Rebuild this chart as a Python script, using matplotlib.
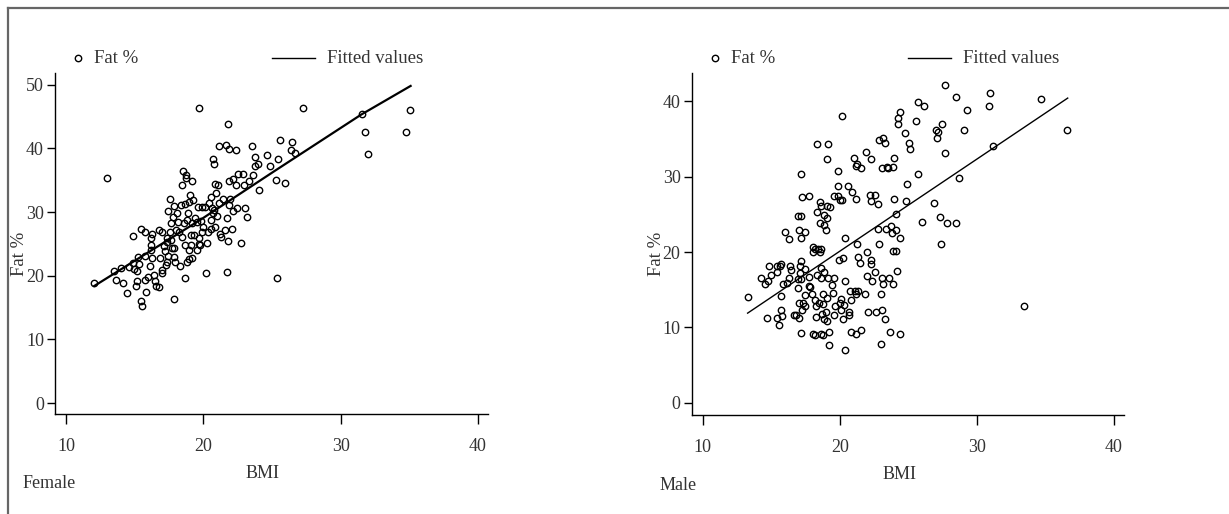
import matplotlib
matplotlib.use("Agg")
import matplotlib.pyplot as plt
from matplotlib.lines import Line2D

plt.rcParams["font.family"] = ["Liberation Serif", "DejaVu Serif"]

# Female sample: BMI vs body fat %
female_bmi = [12.06, 12.96, 13.47, 13.64, 13.98, 14.17, 14.47, 14.56, 14.85, 14.85,
              14.98, 15.07, 15.15, 15.15, 15.24, 15.34, 15.44, 15.46, 15.56, 15.78,
              15.78, 15.78, 15.85, 15.97, 16.14, 16.16, 16.16, 16.16, 16.26, 16.29,
              16.38, 16.50, 16.55, 16.75, 16.75, 16.82, 16.97, 17.01, 16.97, 17.11,
              17.21, 17.26, 17.33, 17.33, 17.33, 17.45, 17.45, 17.57, 17.57, 17.62,
              17.67, 17.72, 17.77, 17.84, 17.86, 17.86, 17.89, 17.94, 18.01, 18.06,
              18.18, 18.23, 18.28, 18.37, 18.45, 18.45, 18.54, 18.57, 18.64, 18.64,
              18.69, 18.71, 18.76, 18.79, 18.83, 18.86, 18.93, 18.96, 18.98, 19.05,
              19.08, 19.10, 19.15, 19.15, 19.17, 19.27, 19.34, 19.39, 19.51, 19.56,
              19.63, 19.66, 19.68, 19.71, 19.76, 19.80, 19.88, 19.90, 19.95, 20.10,
              20.17, 20.24, 20.34, 20.44, 20.53, 20.53, 20.58, 20.61, 20.68, 20.73,
              20.75, 20.80, 20.85, 20.87, 20.95, 21.02, 21.04, 21.14, 21.17, 21.21,
              21.26, 21.41, 21.55, 21.65, 21.70, 21.75, 21.77, 21.80, 21.84, 21.84,
              21.89, 21.94, 22.06, 22.18, 22.18, 22.35, 22.38, 22.48, 22.55, 22.77,
              22.91, 22.99, 23.06, 23.16, 23.35, 23.57, 23.59, 23.76, 23.76, 23.96,
              24.08, 24.66, 24.88, 25.27, 25.39, 25.46, 25.58, 25.97, 26.36, 26.46,
              26.67, 27.28, 31.55, 31.80, 31.97, 34.76, 35.07]
female_fat = [18.9, 35.3, 20.8, 19.4, 21.2, 18.8, 17.3, 21.4, 26.3, 22.0,
              21.0, 18.4, 19.2, 20.8, 23.0, 21.8, 27.4, 16.0, 15.2, 26.8,
              23.1, 19.3, 17.5, 19.8, 21.6, 26.0, 24.9, 24.0, 26.6, 22.8,
              20.1, 19.2, 18.4, 18.2, 27.2, 22.8, 20.9, 26.8, 20.5, 24.6,
              23.9, 21.7, 22.2, 25.9, 25.3, 30.1, 23.1, 32.1, 26.8, 25.6,
              28.3, 24.3, 29.3, 16.4, 30.9, 22.9, 24.3, 22.2, 27.2, 29.9,
              28.5, 26.9, 21.5, 31.1, 34.2, 26.1, 36.4, 28.3, 19.7, 24.8,
              31.2, 35.8, 35.3, 22.2, 28.7, 29.8, 22.7, 24.0, 31.6, 32.6,
              24.8, 26.4, 22.8, 34.9, 28.3, 31.9, 26.4, 29.0, 28.5, 24.1,
              30.8, 25.0, 26.0, 46.4, 24.8, 28.6, 26.8, 30.8, 27.7, 30.8,
              20.4, 25.2, 26.8, 31.4, 32.4, 28.7, 27.4, 30.6, 29.8, 38.3,
              37.6, 30.3, 34.4, 27.7, 33.0, 29.4, 34.2, 40.3, 31.4, 26.6,
              26.1, 32.1, 27.2, 40.5, 29.0, 20.6, 43.9, 25.4, 39.9, 34.9,
              31.1, 32.1, 27.3, 35.2, 30.1, 34.3, 39.8, 30.6, 36.0, 25.2,
              36.0, 34.2, 30.6, 29.3, 34.8, 40.4, 35.8, 38.7, 37.2, 37.6,
              33.5, 39.0, 37.2, 35.0, 19.7, 38.4, 41.3, 34.6, 39.8, 41.0,
              39.2, 46.3, 45.4, 42.6, 39.1, 42.6, 46.0]
female_fit_bmi = [12.06, 19.8, 25.3, 31.5, 35.1]
female_fit_fat = [18.4, 28.8, 36.6, 45.3, 49.8]

# Male sample: BMI vs body fat %
male_bmi = [13.28, 14.27, 14.56, 14.68, 14.78, 14.85, 14.98, 15.39, 15.46, 15.46,
            15.58, 15.61, 15.70, 15.75, 15.75, 15.78, 15.87, 16.00, 16.12, 16.29,
            16.29, 16.38, 16.46, 16.70, 16.82, 16.92, 16.94, 16.99, 17.04, 17.04,
            17.06, 17.09, 17.11, 17.16, 17.18, 17.18, 17.18, 17.18, 17.21, 17.26,
            17.28, 17.31, 17.43, 17.46, 17.46, 17.46, 17.77, 17.77, 17.77, 17.84,
            18.01, 18.06, 18.08, 18.08, 18.16, 18.18, 18.23, 18.25, 18.30, 18.37,
            18.37, 18.37, 18.42, 18.52, 18.57, 18.57, 18.59, 18.62, 18.62, 18.64,
            18.67, 18.67, 18.69, 18.76, 18.79, 18.79, 18.83, 18.86, 18.86, 18.88,
            18.98, 19.03, 19.05, 19.05, 19.05, 19.10, 19.10, 19.15, 19.17, 19.20,
            19.20, 19.30, 19.47, 19.54, 19.59, 19.59, 19.61, 19.64, 19.88, 19.88,
            19.90, 19.95, 20.02, 20.05, 20.07, 20.07, 20.19, 20.19, 20.27, 20.27,
            20.32, 20.36, 20.36, 20.36, 20.58, 20.68, 20.70, 20.78, 20.80, 20.80,
            20.90, 21.07, 21.14, 21.17, 21.17, 21.19, 21.21, 21.26, 21.29, 21.34,
            21.36, 21.48, 21.55, 21.58, 21.82, 21.94, 21.97, 21.97, 22.09, 22.18,
            22.26, 22.26, 22.26, 22.26, 22.38, 22.60, 22.60, 22.67, 22.79, 22.82,
            22.89, 22.89, 22.99, 22.99, 23.08, 23.08, 23.08, 23.13, 23.18, 23.28,
            23.28, 23.38, 23.42, 23.52, 23.62, 23.69, 23.76, 23.79, 23.86, 23.86,
            23.88, 23.96, 23.96, 24.08, 24.10, 24.13, 24.15, 24.25, 24.27, 24.37,
            24.39, 24.39, 24.73, 24.81, 24.88, 25.07, 25.10, 25.58, 25.68, 25.70,
            25.97, 26.17, 26.87, 27.00, 27.06, 27.16, 27.35, 27.38, 27.48, 27.65,
            27.67, 27.79, 28.47, 28.47, 28.67, 29.08, 29.25, 30.87, 30.97, 31.19,
            33.47, 34.68, 36.58]
male_fat = [14.1, 16.5, 15.7, 11.3, 16.1, 18.1, 17.0, 18.1, 17.3, 11.3,
            10.3, 18.2, 18.4, 14.2, 12.3, 11.5, 15.7, 22.6, 15.9, 21.7,
            16.5, 18.1, 17.6, 11.7, 11.7, 24.8, 15.2, 16.4, 22.9, 13.2,
            11.3, 18.1, 17.2, 30.4, 24.8, 21.9, 18.8, 9.3, 16.4, 12.3,
            27.3, 13.3, 17.7, 22.6, 14.3, 12.8, 27.4, 16.7, 15.5, 15.4,
            14.4, 20.6, 20.0, 9.2, 13.7, 9.0, 20.4, 12.8, 11.4, 34.3,
            25.3, 16.9, 20.4, 13.3, 20.0, 23.9, 26.6, 26.1, 9.1, 17.9,
            20.4, 16.6, 11.8, 13.1, 14.4, 9.0, 11.1, 23.6, 17.4, 24.9,
            22.9, 12.1, 10.8, 32.3, 13.9, 26.1, 24.5, 16.6, 34.3, 9.4,
            7.7, 26.0, 15.6, 14.6, 16.6, 11.7, 27.4, 12.8, 28.7, 30.7,
            27.4, 18.9, 13.2, 26.9, 13.8, 12.3, 38.0, 26.9, 19.2, 11.1,
            13.0, 21.8, 16.2, 7.0, 28.7, 12.1, 11.7, 14.9, 13.7, 9.4,
            28.0, 32.5, 14.9, 27.0, 14.5, 9.1, 31.4, 21.1, 31.7, 14.9,
            19.3, 18.5, 31.1, 9.6, 14.5, 33.3, 16.8, 20.0, 12.1, 27.5,
            32.3, 26.7, 18.9, 18.4, 16.2, 27.6, 17.3, 12.1, 26.4, 23.0,
            34.9, 21.1, 14.5, 7.8, 12.3, 31.1, 16.6, 35.1, 15.7, 34.5,
            11.1, 23.1, 31.3, 31.1, 16.5, 9.4, 23.4, 22.5, 20.2, 15.8,
            31.3, 32.5, 27.0, 20.2, 25.0, 22.9, 17.5, 37.8, 37.0, 38.5,
            21.8, 9.2, 35.8, 26.7, 29.0, 34.4, 33.7, 37.3, 39.9, 30.4,
            24.0, 39.3, 26.5, 36.2, 35.1, 35.9, 24.7, 21.1, 37.0, 42.1,
            33.1, 23.9, 40.6, 23.9, 29.8, 36.2, 38.8, 39.3, 41.1, 34.1,
            12.9, 40.3, 36.2]
male_fit_bmi = [13.28, 36.63]
male_fit_fat = [11.9, 40.4]

xticks = [10, 20, 30, 40]
female_yticks = [0, 10, 20, 30, 40, 50]
male_yticks = [0, 10, 20, 30, 40]

text_color = "#333333"
fs = 13

fig = plt.figure(figsize=(12.29, 5.14), dpi=100)

panels = [
    ([0.0448, 0.1946, 0.3523, 0.663], female_bmi, female_fat, female_fit_bmi,
     female_fit_fat, female_yticks, (-1.7, 51.8), 1.6, "Female"),
    ([0.5628, 0.1926, 0.3518, 0.665], male_bmi, male_fat, male_fit_bmi,
     male_fit_fat, male_yticks, (-1.6, 43.7), 1.0, "Male"),
]

for rect, bmi, fat, fit_x, fit_y, yt, ylim, lw, name in panels:
    ax = fig.add_axes(rect)
    ax.plot(bmi, fat, "o", mfc="none", mec="black", ms=4.6, mew=1.0, zorder=3)
    ax.plot(fit_x, fit_y, color="black", lw=lw, zorder=2)
    ax.set_xlim(9.2, 40.74)
    ax.set_ylim(*ylim)
    ax.set_xticks(xticks)
    ax.set_yticks(yt)
    for s in ["top", "right"]:
        ax.spines[s].set_visible(False)
    ax.spines["left"].set_linewidth(1.0)
    ax.spines["bottom"].set_linewidth(1.0)
    ax.tick_params(axis="x", direction="out", length=7, width=1, pad=10,
                   labelsize=fs, labelcolor=text_color)
    ax.tick_params(axis="y", direction="out", length=6, width=1, pad=2,
                   labelsize=fs, labelcolor=text_color)
    ax.set_xlabel("BMI", fontsize=fs, color=text_color)
    ax.xaxis.set_label_coords(0.48, -0.15)
    ax.set_ylabel("Fat %", fontsize=13.5, color=text_color)
    ax.yaxis.set_label_coords(-0.062, 0.47)
    ax.text(-0.075, -0.205, name, transform=ax.transAxes, fontsize=fs,
            color=text_color, ha="left", va="center")

    # legend row above the plot
    ax.plot([0.053], [1.044], "o", mfc="none", mec="black", ms=4.6, mew=1.0,
            transform=ax.transAxes, clip_on=False)
    ax.text(0.09, 1.044, "Fat %", transform=ax.transAxes, fontsize=13.5,
            color=text_color, va="center", ha="left")
    ax.plot([0.501, 0.600], [1.044, 1.044], color="black", lw=1.0,
            transform=ax.transAxes, clip_on=False)
    ax.text(0.628, 1.044, "Fitted values", transform=ax.transAxes, fontsize=13.5,
            color=text_color, va="center", ha="left")

# outer frame: top and left edges only
fig.add_artist(Line2D([7.5 / 1229, 1.0], [1 - 7.5 / 514, 1 - 7.5 / 514],
                      transform=fig.transFigure, color="#666666", lw=1.6))
fig.add_artist(Line2D([7.5 / 1229, 7.5 / 1229], [0.0, 1 - 7.5 / 514],
                      transform=fig.transFigure, color="#666666", lw=1.6))

fig.savefig("out.png", dpi=100)
